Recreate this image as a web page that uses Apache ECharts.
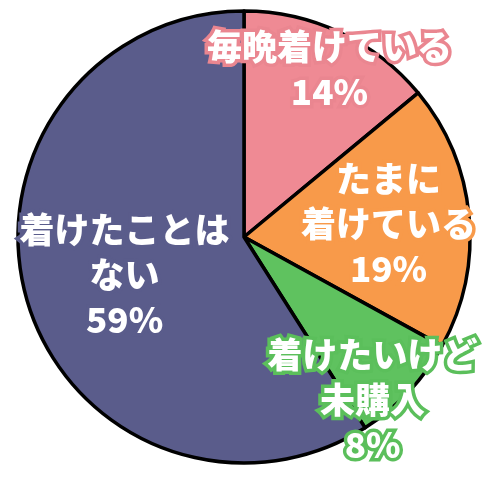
<!DOCTYPE html>
<html><head><meta charset="utf-8">
<script src="https://cdn.jsdelivr.net/npm/echarts@6/dist/echarts.min.js"></script>
<style>html,body{margin:0;padding:0;background:#fff}#c{width:500px;height:482px}</style>
</head><body><div id="c"></div>
<script>
const categories = ['毎晩着けている', 'たまに\n着けている', '着けたいけど\n未購入', '着けたことは\nない'];
const values = [14, 19, 8, 59];
const colors = ['#ef8a94', '#f89a4a', '#5fc25f', '#5a5c8b'];
const strokeColors = ['#ea8690', '#f89a4a', '#5bbf5b', '#5a5c8b'];
const labelOffsets = [[36, -63], [29, -2], [44, 83], [-8, 5]];

const chart = echarts.init(document.getElementById('c'));
chart.setOption({
  animation: false,
  series: [{
    type: 'pie',
    center: [244, 237],
    radius: [0, 226],
    startAngle: 90,
    clockwise: true,
    itemStyle: { borderColor: '#000', borderWidth: 3.5 },
    label: {
      show: true,
      position: 'inside',
      color: '#fff',
      fontFamily: '"Noto Sans CJK JP", sans-serif',
      fontWeight: 900,
      fontSize: 35,
      lineHeight: 45,
      textBorderWidth: 7,
      formatter: p => p.name + '\n' + p.value + '%'
    },
    labelLine: { show: false },
    data: categories.map((c, i) => ({
      name: c,
      value: values[i],
      itemStyle: { color: colors[i] },
      label: { offset: labelOffsets[i], textBorderColor: strokeColors[i] }
    }))
  }]
});
</script></body></html>
